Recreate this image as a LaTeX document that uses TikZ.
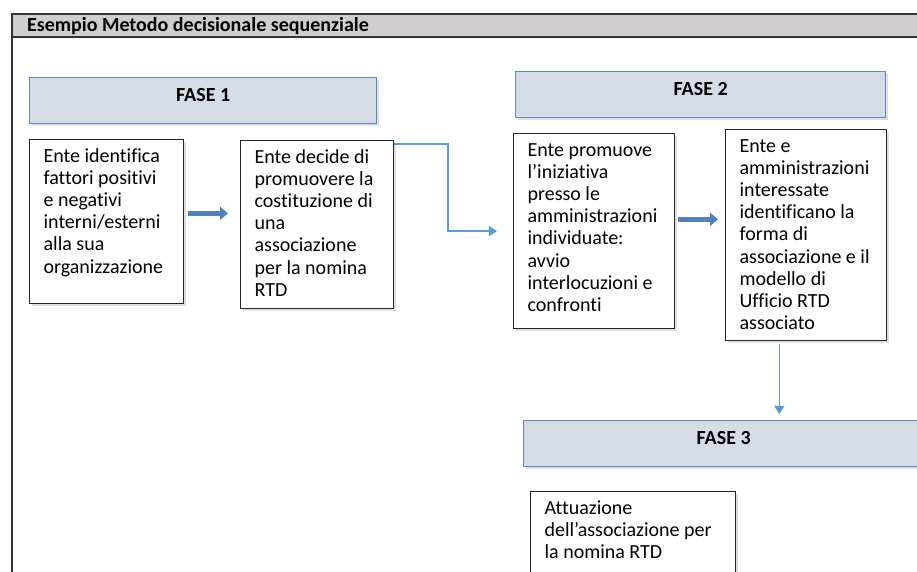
\documentclass[tikz,border=0pt]{standalone}
\usepackage{fontspec}
\setmainfont{Carlito}[Ligatures=NoCommon]
\usetikzlibrary{arrows.meta,shadows,calc}

\definecolor{faseblue}{RGB}{214,220,229}
\definecolor{faseline}{RGB}{91,137,196}
\definecolor{linkblue}{RGB}{91,155,213}
\definecolor{fatblue}{RGB}{79,129,189}
\definecolor{titlegray}{RGB}{208,206,206}

\newcommand{\steptext}[3]{\parbox[t][#2][t]{#1}{\strut #3}}

\tikzset{
	stepbox/.style={draw=black!85, fill=white, line width=0.6pt, anchor=north west,
		inner xsep=7pt, inner ysep=3.5pt,
		drop shadow={opacity=0.25, shadow xshift=1pt, shadow yshift=-1pt}},
	fasebar/.style={draw=faseline, fill=faseblue, line width=0.7pt, anchor=north west,
		minimum height=23pt, font=\fontsize{10}{11.1}\selectfont\bfseries, text depth=6pt,
		drop shadow={opacity=0.25, shadow xshift=1pt, shadow yshift=-1pt}},
	link/.style={draw=linkblue, line width=0.75pt, -{Triangle[length=4pt,width=5pt]}},
	fatarrow/.style={draw=fatblue, line width=2.4pt, -{Triangle[length=4pt,width=6.5pt]}}
}

\begin{document}
\begin{tikzpicture}[x=0.5pt,y=-0.5pt,font=\fontsize{10}{11.1}\selectfont]
\clip (0,0) rectangle (917,572);

% frame
\draw[fill=titlegray, draw=black!80, line width=0.8pt] (12,14) rectangle (940,37);
\draw[draw=black!80, line width=1pt] (12,14) rectangle (940,600);
\node[anchor=west, font=\fontsize{10}{11.1}\selectfont\bfseries] (title) at (20,26) {Esempio Metodo decisionale sequenziale};

% phases
\foreach \n/\x/\y/\w in {1/29/77/173.5, 2/515/71/185, 3/523/420/200}{
	\node[fasebar, minimum width=\w pt] (f\n) at (\x,\y) {FASE \n};
}

% steps
\node[stepbox] (a) at (29,139) {\steptext{63pt}{75pt}{Ente identifica\\fattori positivi\\e negativi\\interni/esterni\\alla sua\\organizzazione}};
\node[stepbox] (b) at (240,140) {\steptext{62.5pt}{77pt}{Ente decide di\\promuovere la\\costituzione di\\una\\associazione\\per la nomina\\RTD}};
\node[stepbox] (c) at (513,133) {\steptext{66.5pt}{90.5pt}{Ente promuove\\l’iniziativa\\presso le\\amministrazioni\\individuate:\\avvio\\interlocuzioni e\\confronti}};
\node[stepbox] (d) at (725,129) {\steptext{66.5pt}{98.5pt}{Ente e\\amministrazioni\\interessate\\identificano la\\forma di\\associazione e il\\modello di\\Ufficio RTD\\associato}};
\node[stepbox] (e) at (530,491) {\steptext{88.5pt}{60pt}{Attuazione\\dell’associazione per\\la nomina RTD}};

% connectors
\coordinate (a1) at ($(a.north east)!0.45!(a.south east)$);
\draw[fatarrow, shorten <=2pt, shorten >=6pt] (a1) -- (a1 -| b.west);
\coordinate (c1) at ($(c.north east)!0.44!(c.south east)$);
\draw[fatarrow, shorten <=1.5pt, shorten >=3.5pt] (c1) -- (c1 -| d.west);
\coordinate (b1) at ($(b.north east)!0.025!(b.south east)$);
\draw[link, shorten >=8pt] (b1) -- ++(54,0) |- (c.west);
\coordinate (d1) at ($(d.south west)!0.335!(d.south east)$);
\draw[link, shorten <=1.5pt, shorten >=3pt] (d1) -- (d1 |- f3.north);
\end{tikzpicture}
\end{document}
